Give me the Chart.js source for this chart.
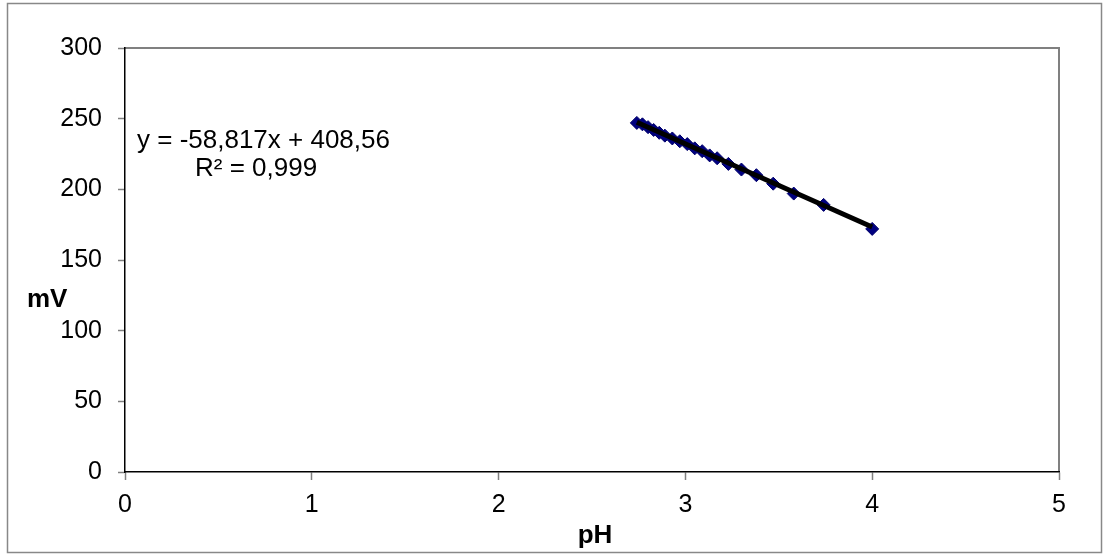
<!DOCTYPE html>
<html>
<head>
<meta charset="utf-8">
<script src="https://cdn.jsdelivr.net/npm/chart.js@4.4.1/dist/chart.umd.min.js"></script>
<style>
	body { margin: 0; background: #fff; }
	canvas { display: block; }
</style>
</head>
<body>
<canvas id="myChart" width="1104" height="554"></canvas>
<script>
// measured points (pH, mV)
var ph = [2.74, 2.77, 2.80, 2.83, 2.86, 2.89, 2.93, 2.97, 3.01, 3.05, 3.09, 3.13, 3.17, 3.23, 3.30, 3.38, 3.47, 3.58, 3.74, 4.00];
var mv = [247, 246, 244, 242, 240, 238, 236, 234, 232, 229, 227, 224, 222, 218, 214, 210, 204, 197, 189, 172];

var xTicks = [0, 1, 2, 3, 4, 5];
var yTicks = [0, 50, 100, 150, 200, 250, 300];

// linear trendline from the chart
var slope = -58.817;
var intercept = 408.56;
var equationText = "y = -58,817x + 408,56";
var r2Text = "R\u00b2 = 0,999";

var xTitle = "pH";
var yTitle = "mV";

var FONT = "'Liberation Sans', Arial, sans-serif";

var points = [];
for (var i = 0; i < ph.length; i++) {
	points.push({x: ph[i], y: mv[i]});
}
var xFirst = ph[0], xLast = ph[ph.length - 1];
var trend = [
	{x: xFirst, y: slope * xFirst + intercept},
	{x: xLast, y: slope * xLast + intercept}
];

var framePlugin = {
	id: "frame",
	beforeDraw: function(chart) {
		var ctx = chart.ctx;
		var a = chart.chartArea;
		ctx.save();
		ctx.fillStyle = "#fff";
		ctx.fillRect(0, 0, chart.width, chart.height);
		// outer border
		ctx.strokeStyle = "#888";
		ctx.lineWidth = 1.5;
		ctx.strokeRect(7.5, 3.5, 1094, 549);
		// plot area top + right edge
		ctx.strokeStyle = "#808080";
		ctx.lineWidth = 2;
		ctx.beginPath();
		ctx.moveTo(a.left, a.top);
		ctx.lineTo(a.right, a.top);
		ctx.lineTo(a.right, a.bottom);
		ctx.stroke();
		ctx.restore();
	},
	afterDraw: function(chart) {
		var ctx = chart.ctx;
		var a = chart.chartArea;
		ctx.save();
		ctx.fillStyle = "#000";
		ctx.textBaseline = "alphabetic";
		ctx.textAlign = "left";
		ctx.font = "26px " + FONT;
		ctx.fillText(equationText, 137, 148);
		ctx.fillText(r2Text, 195, 176);
		// axis titles
		ctx.font = "bold 26px " + FONT;
		ctx.fillText(yTitle, 27, 307);
		ctx.textAlign = "center";
		ctx.fillText(xTitle, (a.left + a.right) / 2 + 3, 543);
		ctx.restore();
	}
};

var ctx = document.getElementById("myChart").getContext("2d");
var chart = new Chart(ctx, {
	type: "scatter",
	data: {
		datasets: [
			{
				label: "Linear",
				data: trend,
				showLine: true,
				borderColor: "#000",
				borderWidth: 5,
				pointRadius: 0,
				order: 0
			},
			{
				label: "mV",
				data: points,
				pointStyle: "rectRot",
				pointRadius: 6.5,
				backgroundColor: "#000080",
				borderColor: "#00006a",
				borderWidth: 1,
				order: 1
			}
		]
	},
	plugins: [framePlugin],
	options: {
		responsive: false,
		animation: false,
		layout: { padding: { top: 48, right: 45, left: 0, bottom: 0 } },
		plugins: {
			legend: { display: false },
			tooltip: { enabled: false }
		},
		scales: {
			x: {
				type: "linear",
				min: 0,
				max: 5,
				afterBuildTicks: function(s) { s.ticks = xTicks.map(function(v){ return {value: v}; }); },
				afterFit: function(s) { s.height = 82; },
				grid: { drawOnChartArea: false, drawTicks: true, tickLength: 8, tickColor: "#808080", tickWidth: 1.5 },
				border: { display: true, color: "#000", width: 1.5 },
				ticks: { color: "#000", padding: 10, maxRotation: 0, font: { family: FONT, size: 25 } }
			},
			y: {
				type: "linear",
				min: 0,
				max: 300,
				afterBuildTicks: function(s) { s.ticks = yTicks.map(function(v){ return {value: v}; }); },
				afterFit: function(s) { s.width = 125; },
				grid: { drawOnChartArea: false, drawTicks: true, tickLength: 7, tickColor: "#808080", tickWidth: 1.5 },
				border: { display: true, color: "#000", width: 1.5 },
				ticks: { color: "#000", padding: 16, font: { family: FONT, size: 25 } }
			}
		}
	}
});
</script>
</body>
</html>
